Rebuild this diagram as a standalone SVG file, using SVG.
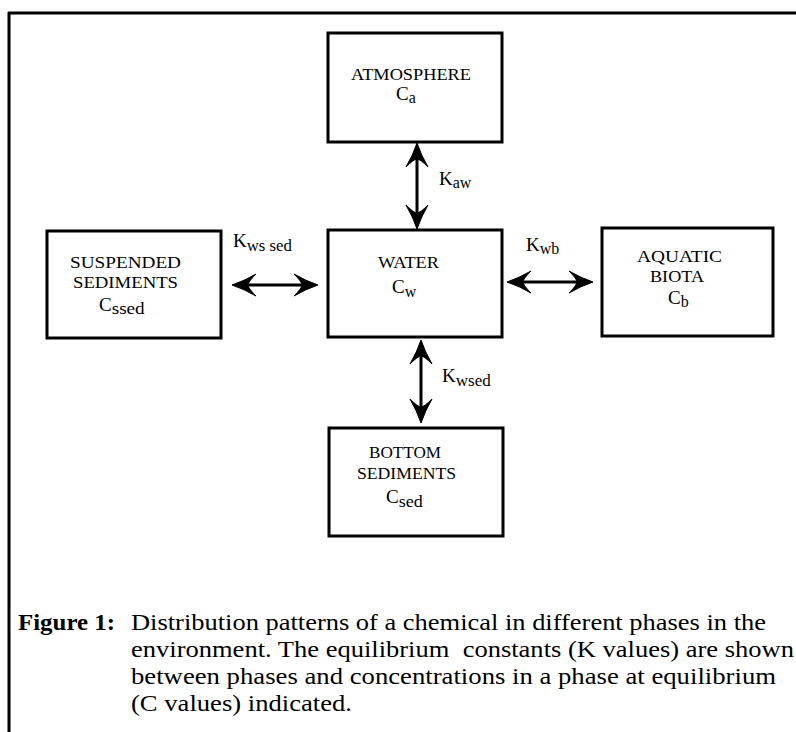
<svg xmlns="http://www.w3.org/2000/svg" width="796" height="732" viewBox="0 0 796 732">
<defs>
<style>
.box{fill:#fff;stroke:#000;stroke-width:3}
.t{font-family:"Liberation Serif","Times New Roman",serif;font-size:16px;fill:#000}
.c{font-family:"Liberation Serif","Times New Roman",serif;font-size:19px;fill:#000}
.s{font-family:"Liberation Serif","Times New Roman",serif;font-size:16px;fill:#000}
.cap{font-family:"Liberation Serif","Times New Roman",serif;font-size:23.5px;fill:#000}
.ln{stroke:#000;stroke-width:3;fill:none}
.frame{stroke:#000;stroke-width:3;fill:none}
</style>
<path id="ah" d="M0,0 Q-12,-4 -24,-11 Q-16,-3 -16,0 Q-16,3 -24,11 Q-12,4 0,0 Z" fill="#000" stroke="#000" stroke-width="1"/>
</defs>
<rect width="796" height="732" fill="#fff"/>
<g id="frame">
<line class="frame" x1="8" y1="13" x2="796" y2="13"/>
<line class="frame" x1="9" y1="12" x2="9" y2="732"/>
</g>
<g id="atmosphere">
<rect class="box" x="328" y="33" width="174" height="109"/>
<text class="t" x="351" y="80" textLength="120" lengthAdjust="spacingAndGlyphs">ATMOSPHERE</text>
<text class="c" x="396" y="100">C<tspan class="s" dy="3">a</tspan></text>
</g>
<g id="water">
<rect class="box" x="328" y="230" width="174" height="107"/>
<text class="t" x="378" y="268" textLength="61" lengthAdjust="spacingAndGlyphs">WATER</text>
<text class="c" x="392" y="293">C<tspan class="s" dy="4">w</tspan></text>
</g>
<g id="suspended">
<rect class="box" x="47" y="231" width="174" height="107"/>
<text class="t" x="70" y="268" textLength="111" lengthAdjust="spacingAndGlyphs">SUSPENDED</text>
<text class="t" x="73" y="288" textLength="105" lengthAdjust="spacingAndGlyphs">SEDIMENTS</text>
<text class="c" x="99" y="311">C<tspan class="s" dy="3" textLength="33" lengthAdjust="spacingAndGlyphs">ssed</tspan></text>
</g>
<g id="biota">
<rect class="box" x="602" y="228" width="171" height="108"/>
<text class="t" x="637" y="262" textLength="85" lengthAdjust="spacingAndGlyphs">AQUATIC</text>
<text class="t" x="650" y="282" textLength="54" lengthAdjust="spacingAndGlyphs">BIOTA</text>
<text class="c" x="668" y="304">C<tspan class="s" dy="3">b</tspan></text>
</g>
<g id="bottom">
<rect class="box" x="329" y="428" width="174" height="108"/>
<text class="t" x="369" y="458" textLength="72" lengthAdjust="spacingAndGlyphs">BOTTOM</text>
<text class="t" x="357" y="479" textLength="99" lengthAdjust="spacingAndGlyphs">SEDIMENTS</text>
<text class="c" x="386" y="503">C<tspan class="s" dy="4" textLength="24" lengthAdjust="spacingAndGlyphs">sed</tspan></text>
</g>
<g id="connectors">
<line class="ln" x1="417" y1="152" x2="417" y2="220"/>
<use href="#ah" transform="translate(417,143) rotate(-90)"/>
<use href="#ah" transform="translate(417,229) rotate(90)"/>
<line class="ln" x1="241" y1="285" x2="309" y2="285"/>
<use href="#ah" transform="translate(232,285) rotate(180)"/>
<use href="#ah" transform="translate(318,285)"/>
<line class="ln" x1="516" y1="282" x2="584" y2="282"/>
<use href="#ah" transform="translate(507,282) rotate(180)"/>
<use href="#ah" transform="translate(593,282)"/>
<line class="ln" x1="421" y1="349" x2="421" y2="414"/>
<use href="#ah" transform="translate(421,340) rotate(-90)"/>
<use href="#ah" transform="translate(421,423) rotate(90)"/>
</g>
<g id="labels">
<text class="c" x="439" y="185">K<tspan class="s" dy="3">aw</tspan></text>
<text class="c" x="233" y="247">K<tspan class="s" dy="4" textLength="45" lengthAdjust="spacingAndGlyphs">ws sed</tspan></text>
<text class="c" x="526" y="251">K<tspan class="s" dy="3">wb</tspan></text>
<text class="c" x="442" y="382">K<tspan class="s" dy="4" textLength="35" lengthAdjust="spacingAndGlyphs">wsed</tspan></text>
</g>
<g id="caption">
<text class="cap" x="18" y="630" font-weight="bold" textLength="97" lengthAdjust="spacingAndGlyphs">Figure 1:</text>
<text class="cap" x="131" y="630" textLength="635" lengthAdjust="spacingAndGlyphs">Distribution patterns of a chemical in different phases in the</text>
<text class="cap" x="131" y="657" textLength="663" lengthAdjust="spacingAndGlyphs" xml:space="preserve">environment. The equilibrium  constants (K values) are shown</text>
<text class="cap" x="131" y="684" textLength="645" lengthAdjust="spacingAndGlyphs">between phases and concentrations in a phase at equilibrium</text>
<text class="cap" x="131" y="711" textLength="221" lengthAdjust="spacingAndGlyphs">(C values) indicated.</text>
</g>
</svg>
